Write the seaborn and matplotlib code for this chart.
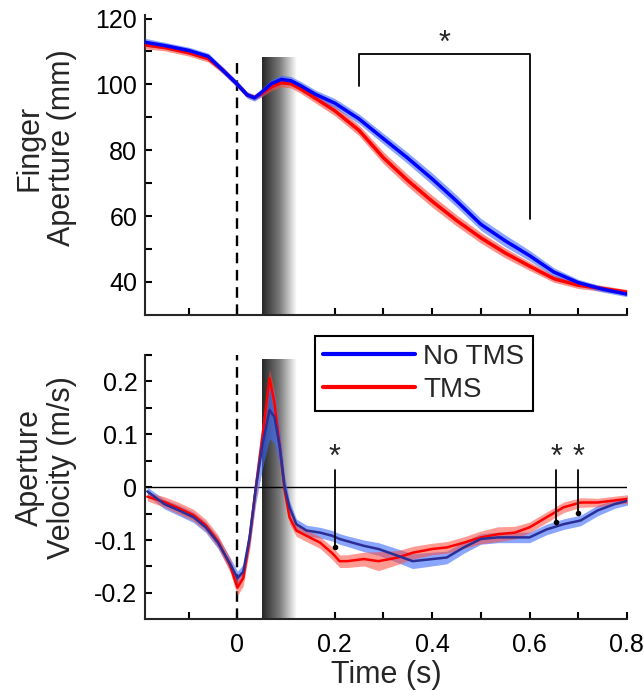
import numpy as np
import pandas as pd
import seaborn as sns
import matplotlib
matplotlib.use("Agg")
import matplotlib.pyplot as plt
from matplotlib.colors import LinearSegmentedColormap
from matplotlib.lines import Line2D

# ---- data ----
# top panel: finger aperture (mm)
t_ap = [-0.19, -0.15, -0.10, -0.06, -0.03, 0.0, 0.02, 0.035, 0.05, 0.07, 0.09, 0.11,
        0.13, 0.16, 0.20, 0.25, 0.30, 0.35, 0.40, 0.45, 0.50, 0.55, 0.60, 0.65,
        0.70, 0.75, 0.80]
ap_notms = [112.8, 111.8, 110.3, 108.5, 104.3, 100.0, 96.8, 95.9, 97.6, 100.2, 101.5, 101.1,
            99.6, 97.0, 94.3, 89.5, 83.5, 77.6, 71.3, 64.6, 57.5, 52.5, 48.0, 43.0,
            39.8, 37.8, 36.3]
ap_tms = [112.0, 111.2, 109.6, 107.8, 104.3, 100.0, 96.8, 96.0, 97.2, 99.3, 100.5, 100.2,
          98.6, 95.8, 92.0, 86.0, 77.7, 70.8, 64.5, 58.7, 53.4, 48.8, 44.8, 41.0,
          39.0, 38.0, 36.9]
ap_notms_se = [1.2, 1.0, 1.0, 1.0, 1.0, 1.0, 1.0, 1.0, 1.2, 1.3, 1.3, 1.3,
               1.3, 1.3, 1.4, 1.5, 1.6, 1.7, 1.8, 1.8, 1.8, 1.8, 1.6, 1.3,
               1.0, 0.9, 0.8]
ap_tms_se = [1.2, 1.0, 1.0, 1.0, 1.0, 0.8, 0.8, 0.8, 1.0, 1.2, 1.2, 1.3,
             1.3, 1.4, 1.5, 1.6, 1.8, 1.8, 1.8, 1.7, 1.6, 1.5, 1.3, 1.1,
             1.0, 0.9, 0.8]

# bottom panel: aperture velocity (m/s)
t_vel = [-0.185, -0.15, -0.12, -0.09, -0.065, -0.04, -0.015, 0.0, 0.012, 0.025, 0.038,
         0.052, 0.066, 0.076, 0.087, 0.097, 0.107, 0.121, 0.142, 0.17, 0.195, 0.21,
         0.225, 0.26, 0.29, 0.33, 0.36, 0.40, 0.43, 0.465, 0.50, 0.535, 0.57, 0.60,
         0.635, 0.67, 0.705, 0.74, 0.775, 0.805]
vel_notms = [-0.008, -0.032, -0.044, -0.057, -0.076, -0.105, -0.145, -0.172, -0.160, -0.095, 0.0,
             0.083, 0.146, 0.133, 0.076, 0.0, -0.038, -0.070, -0.082, -0.086, -0.092, -0.098,
             -0.102, -0.111, -0.117, -0.130, -0.140, -0.136, -0.133, -0.114, -0.098, -0.095, -0.095, -0.095,
             -0.080, -0.070, -0.063, -0.044, -0.032, -0.025]
vel_tms = [-0.018, -0.028, -0.040, -0.053, -0.072, -0.102, -0.148, -0.190, -0.172, -0.098, 0.0,
           0.100, 0.206, 0.160, 0.076, -0.006, -0.057, -0.082, -0.092, -0.105, -0.125, -0.140,
           -0.140, -0.136, -0.140, -0.133, -0.124, -0.117, -0.114, -0.105, -0.095, -0.089, -0.086, -0.076,
           -0.057, -0.038, -0.029, -0.029, -0.025, -0.022]
vel_notms_se = [0.008, 0.009, 0.010, 0.010, 0.010, 0.011, 0.012, 0.013, 0.014, 0.020, 0.030,
                0.045, 0.055, 0.050, 0.035, 0.020, 0.012, 0.010, 0.010, 0.010, 0.010, 0.010,
                0.010, 0.011, 0.012, 0.013, 0.014, 0.013, 0.012, 0.011, 0.010, 0.010, 0.010, 0.010,
                0.010, 0.010, 0.010, 0.010, 0.008, 0.008]
vel_tms_se = [0.008, 0.010, 0.011, 0.011, 0.011, 0.012, 0.013, 0.015, 0.015, 0.020, 0.020,
              0.020, 0.018, 0.020, 0.020, 0.015, 0.012, 0.011, 0.011, 0.011, 0.012, 0.012,
              0.012, 0.013, 0.018, 0.013, 0.012, 0.011, 0.011, 0.011, 0.012, 0.014, 0.012, 0.010,
              0.010, 0.010, 0.009, 0.008, 0.008, 0.008]

conditions = ["No TMS", "TMS"]
x_major = [0, 0.2, 0.4, 0.6, 0.8]
x_major_labels = ["0", "0.2", "0.4", "0.6", "0.8"]
x_minor = [-0.1, 0.1, 0.3, 0.5, 0.7]
ap_major = [40, 60, 80, 100, 120]
ap_minor = [50, 70, 90, 110]
vel_major = [-0.2, -0.1, 0, 0.1, 0.2]
vel_major_labels = ["-0.2", "-0.1", "0", "0.1", "0.2"]
vel_minor = [-0.15, -0.05, 0.05, 0.15, 0.25]

# significance markers
ap_bracket = (0.25, 0.6)
vel_star_t = [0.2, 0.655, 0.7]
vel_star_v = [-0.113, -0.065, -0.048]

# ---- style ----
sns.set_style("ticks")
plt.rcParams["font.family"] = ["Liberation Sans", "DejaVu Sans"]
plt.rcParams["axes.linewidth"] = 1.5

blue = "#0000ff"
red = "#ff0000"
blue_band = "#3d6bff"
red_band = "#ff4a3a"
grad_cmap = LinearSegmentedColormap.from_list("tms", ["#262626", "#7a7a7a", "#ffffff"])

fig = plt.figure(figsize=(6.44, 6.92), dpi=100)
ax1 = fig.add_axes([0.225, 0.545, 0.7484, 0.433])
ax2 = fig.add_axes([0.225, 0.105, 0.7484, 0.382])

ap_df = pd.DataFrame({
    "t": t_ap * 2,
    "value": ap_notms + ap_tms,
    "cond": [conditions[0]] * len(t_ap) + [conditions[1]] * len(t_ap),
})
vel_df = pd.DataFrame({
    "t": t_vel * 2,
    "value": vel_notms + vel_tms,
    "cond": [conditions[0]] * len(t_vel) + [conditions[1]] * len(t_vel),
})

# ---- top panel ----
ax = ax1
ax.set_xlim(-0.19, 0.8)
ax.set_ylim(30, 121)
ax.imshow(np.linspace(0, 1, 256).reshape(1, -1), cmap=grad_cmap, aspect="auto",
          extent=[0.05, 0.12, 30, 108.3], zorder=1)
ax.plot([0, 0], [30, 108], color="k", lw=1.7, dashes=(4.5, 2.8), zorder=2)
ax.fill_between(t_ap, np.array(ap_tms) - ap_tms_se, np.array(ap_tms) + ap_tms_se,
                color=red_band, alpha=0.6, lw=0, zorder=3)
ax.fill_between(t_ap, np.array(ap_notms) - ap_notms_se, np.array(ap_notms) + ap_notms_se,
                color=blue_band, alpha=0.6, lw=0, zorder=3)
sns.lineplot(data=ap_df, x="t", y="value", hue="cond", hue_order=conditions[::-1],
             palette={conditions[0]: blue, conditions[1]: red}, lw=2.5,
             legend=False, ax=ax, zorder=4)
b0, b1 = ap_bracket
ax.plot([b0, b0, b1, b1], [99.5, 109.2, 109.2, 59.2], color="k", lw=1.3, zorder=5)
ax.text((b0 + b1) / 2, 112.4, "*", ha="center", va="center", fontsize=22)
ax.set_xticks(x_major)
ax.set_xticks(x_minor, minor=True)
ax.set_xticklabels([])
ax.set_yticks(ap_major)
ax.set_yticks(ap_minor, minor=True)
ax.set_xlabel("")
ax.set_ylabel("Finger\nAperture (mm)", fontsize=22, va="center", linespacing=1.1)
ax.yaxis.set_label_coords(-0.205, 0.558)

# ---- bottom panel ----
ax = ax2
ax.set_xlim(-0.19, 0.8)
ax.set_ylim(-0.25, 0.25)
ax.imshow(np.linspace(0, 1, 256).reshape(1, -1), cmap=grad_cmap, aspect="auto",
          extent=[0.05, 0.12, -0.25, 0.24], zorder=1)
ax.plot([0, 0], [-0.25, 0.25], color="k", lw=1.7, dashes=(4.5, 2.8), zorder=2)
ax.axhline(0, color="k", lw=1.0, zorder=2)
ax.fill_between(t_vel, np.array(vel_notms) - vel_notms_se, np.array(vel_notms) + vel_notms_se,
                color=blue_band, alpha=0.6, lw=0, zorder=3)
ax.fill_between(t_vel, np.array(vel_tms) - vel_tms_se, np.array(vel_tms) + vel_tms_se,
                color=red_band, alpha=0.55, lw=0, zorder=3)
sns.lineplot(data=vel_df, x="t", y="value", hue="cond", hue_order=conditions[::-1],
             palette={conditions[0]: "#2b2f95", conditions[1]: red}, lw=1.8,
             legend=False, ax=ax, zorder=4)
for st, sv in zip(vel_star_t, vel_star_v):
    ax.plot([st, st], [0.032, sv], color="k", lw=1.3, zorder=5)
    ax.plot(st, sv, "o", color="k", ms=3, zorder=5)
    ax.text(st, 0.055, "*", ha="center", va="center", fontsize=22)
ax.set_xticks(x_major)
ax.set_xticklabels(x_major_labels)
ax.set_xticks(x_minor, minor=True)
ax.set_yticks(vel_major)
ax.set_yticklabels(vel_major_labels)
ax.set_yticks(vel_minor, minor=True)
ax.set_xlabel("Time (s)", fontsize=22, labelpad=2)
ax.set_ylabel("Aperture\nVelocity (m/s)", fontsize=22, va="center", linespacing=1.1)
ax.yaxis.set_label_coords(-0.205, 0.576)

for ax in (ax1, ax2):
    sns.despine(ax=ax)
    ax.tick_params(which="both", direction="in", length=5, width=1.5, labelsize=18,
                   colors="k")
    ax.tick_params(axis="x", which="both", pad=10)
    ax.tick_params(axis="y", which="both", pad=5.5)

handles = [Line2D([], [], color=blue, lw=3), Line2D([], [], color=red, lw=3)]
leg = fig.legend(handles, conditions, loc="center", bbox_to_anchor=(0.658, 0.46),
                 bbox_transform=fig.transFigure, fontsize=20, frameon=True, fancybox=False,
                 handlelength=3.3, handletextpad=0.3, borderpad=0.3, labelspacing=0.25,
                 borderaxespad=0)
leg.get_frame().set_edgecolor("k")
leg.get_frame().set_linewidth(1.5)
leg.get_frame().set_alpha(1)

fig.savefig("out.png", dpi=100)
